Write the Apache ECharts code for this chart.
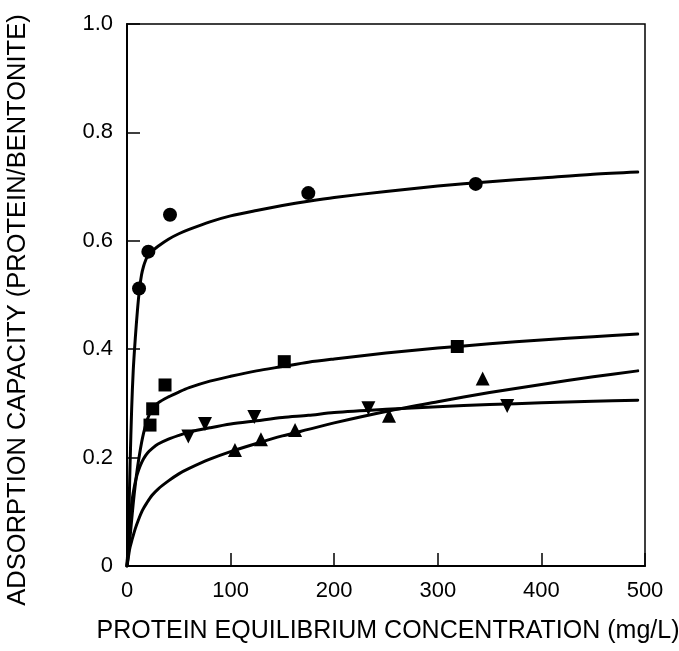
<!DOCTYPE html>
<html>
<head>
<meta charset="utf-8">
<style>
  html, body { margin: 0; padding: 0; background: #ffffff; }
  #chart { width: 679px; height: 651px; }
</style>
<script src="https://cdn.jsdelivr.net/npm/echarts@6/dist/echarts.min.js"></script>
</head>
<body>
<div id="chart"></div>
<script>
// Axis ticks
const xTicks = [0, 100, 200, 300, 400, 500];
const yTicks = [0, 0.2, 0.4, 0.6, 0.8, 1.0];

// Axis titles
const xTitle = 'PROTEIN EQUILIBRIUM CONCENTRATION (mg/L)';
const yTitle = 'ADSORPTION CAPACITY (PROTEIN/BENTONITE)';

// Measured adsorption points: [equilibrium concentration (mg/L), capacity]
const circlePoints = [[11.6, 0.512], [20.6, 0.580], [41.5, 0.648], [175, 0.688], [336.6, 0.705]];
const squarePoints = [[22.2, 0.260], [24.8, 0.290], [36.7, 0.334], [151.8, 0.377], [318.8, 0.405]];
const upTrianglePoints = [[104.2, 0.214], [129.3, 0.234], [162.2, 0.251], [252.9, 0.277], [343.3, 0.346]];
const downTrianglePoints = [[59.2, 0.239], [75.3, 0.262], [122.9, 0.275], [233, 0.291], [367, 0.295]];

// Fitted isotherm curves traced along each series
const circleCurve = [[0, 0], [1, 0.04], [2, 0.11], [3, 0.19], [4.5, 0.29], [6, 0.36], [8, 0.42], [10, 0.47],
  [12, 0.51], [14, 0.537], [16, 0.553], [18, 0.564], [20, 0.572], [25, 0.582], [30, 0.590], [40, 0.603],
  [50, 0.613], [60, 0.621], [80, 0.635], [100, 0.646], [125, 0.656], [150, 0.665], [175, 0.673],
  [200, 0.680], [250, 0.691], [300, 0.701], [350, 0.709], [400, 0.716], [450, 0.723], [493, 0.727]];
const squareCurve = [[0, 0], [2, 0.035], [4, 0.075], [6, 0.115], [8, 0.15], [10, 0.18], [12, 0.205],
  [14, 0.227], [16, 0.245], [18, 0.26], [20, 0.272], [22, 0.281], [25, 0.2915], [30, 0.301], [40, 0.312],
  [50, 0.321], [60, 0.329], [80, 0.341], [100, 0.350], [125, 0.360], [150, 0.368], [175, 0.376],
  [200, 0.382], [250, 0.393], [300, 0.402], [350, 0.410], [400, 0.417], [450, 0.423], [493, 0.428]];
const downTriangleCurve = [[0, 0], [1, 0.03], [2, 0.06], [3, 0.085], [4.5, 0.115], [6, 0.135], [8, 0.155],
  [10, 0.17], [13, 0.186], [16, 0.198], [20, 0.209], [25, 0.218], [30, 0.225], [40, 0.234], [50, 0.241],
  [60, 0.247], [80, 0.255], [100, 0.262], [125, 0.268], [150, 0.274], [175, 0.278], [200, 0.283],
  [250, 0.289], [300, 0.294], [350, 0.298], [400, 0.301], [450, 0.304], [493, 0.306]];
const upTriangleCurve = [[0, 0], [1, 0.012], [2, 0.025], [3, 0.035], [4.5, 0.046], [6, 0.056], [8, 0.069],
  [11, 0.085], [15, 0.103], [19, 0.116], [24, 0.13], [30, 0.142], [40, 0.157], [50, 0.17], [60, 0.18],
  [80, 0.197], [100, 0.211], [125, 0.226], [150, 0.240], [175, 0.252], [200, 0.264], [250, 0.285],
  [300, 0.303], [350, 0.320], [400, 0.335], [450, 0.349], [493, 0.36]];

const FONT = '"Liberation Sans", Arial, Helvetica, sans-serif';
const INK = '#000000';

function curve(data) {
  return {
    type: 'line', data: data, smooth: 0.3,
    showSymbol: false, silent: true,
    lineStyle: { color: INK, width: 3, cap: 'round', join: 'round' }, z: 2
  };
}
function marks(data, symbol, size, rotate) {
  return {
    type: 'scatter', data: data, symbol: symbol, symbolSize: size, symbolRotate: rotate || 0,
    itemStyle: { color: INK, opacity: 1 }, z: 3
  };
}

const chart = echarts.init(document.getElementById('chart'), null, { renderer: 'canvas' });
chart.setOption({
  backgroundColor: '#ffffff',
  animation: false,
  grid: {
    left: 127, top: 24, width: 518, height: 542,
    containLabel: false, outerBoundsMode: 'none',
    show: true, borderColor: INK, borderWidth: 1.5, backgroundColor: 'transparent'
  },
  graphic: [
    {
      type: 'text', x: 388, y: 619,
      style: { text: xTitle, fontFamily: FONT, fontSize: 25, fill: INK, align: 'center', verticalAlign: 'top' }
    },
    {
      type: 'text', x: 5, y: 310, rotation: Math.PI / 2,
      style: {
        text: yTitle, fontFamily: FONT, fontSize: 25.5, fill: INK,
        align: 'center', verticalAlign: 'top'
      }
    }
  ],
  xAxis: {
    type: 'value', min: xTicks[0], max: xTicks[xTicks.length - 1], interval: 100,
    axisLine: { show: true, lineStyle: { color: INK, width: 2 } },
    axisTick: { show: true, inside: true, length: 13, lineStyle: { color: INK, width: 1.5 } },
    axisLabel: { fontFamily: FONT, fontSize: 22, color: INK, margin: 14 },
    splitLine: { show: false }
  },
  yAxis: {
    type: 'value', min: yTicks[0], max: yTicks[yTicks.length - 1], interval: 0.2,
    axisLine: { show: true, lineStyle: { color: INK, width: 2 } },
    axisTick: { show: true, inside: true, length: 13, lineStyle: { color: INK, width: 1.5 } },
    axisLabel: {
      fontFamily: FONT, fontSize: 22, color: INK, margin: 14,
      formatter: v => (v === 0 ? '0' : v.toFixed(1))
    },
    splitLine: { show: false }
  },
  series: [
    curve(circleCurve), curve(squareCurve), curve(downTriangleCurve), curve(upTriangleCurve),
    marks(circlePoints, 'circle', 14),
    marks(squarePoints, 'rect', 13),
    marks(upTrianglePoints, 'triangle', 14),
    marks(downTrianglePoints, 'triangle', 14, 180)
  ]
});
</script>
</body>
</html>
